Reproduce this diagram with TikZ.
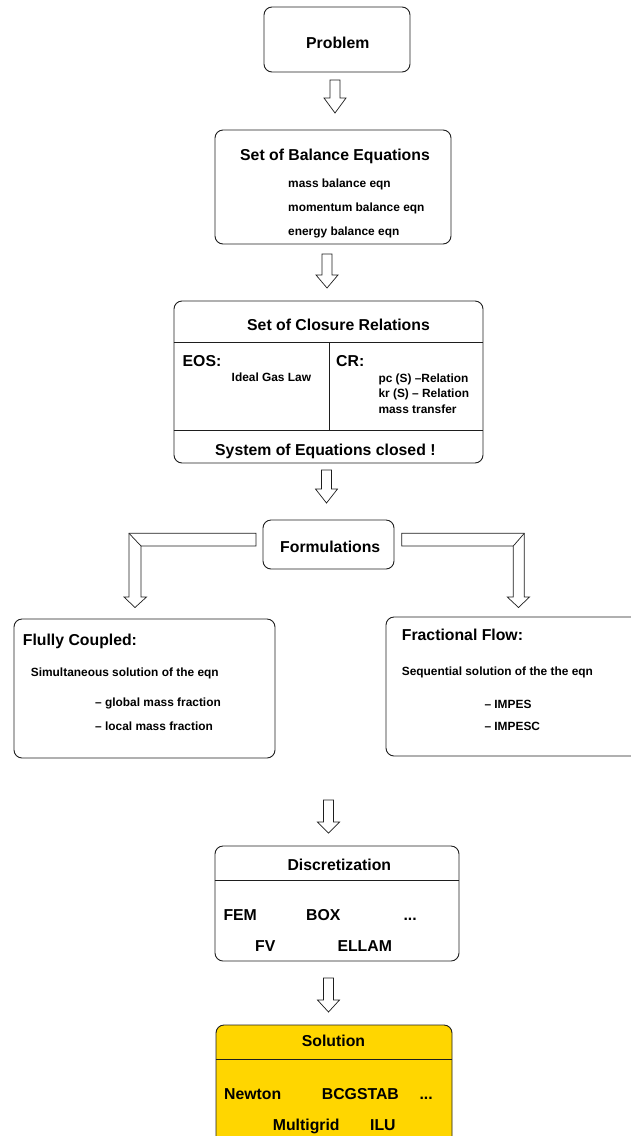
\documentclass[tikz,border=0pt]{standalone}
\usepackage{fontspec}
\setmainfont{Liberation Sans}
\definecolor{gold}{RGB}{255,214,0}
\definecolor{edge}{RGB}{30,30,30}
\begin{document}
\begin{tikzpicture}[x=1pt,y=-1pt,
  box/.style={draw=edge,line width=0.9pt,rounded corners=8pt,inner sep=0pt},
  title/.style={font=\fontsize{15.8}{18}\selectfont\bfseries,inner sep=0pt,anchor=base west},
  small/.style={font=\fontsize{11.9}{14}\selectfont\bfseries,inner sep=0pt,anchor=base west},
  blockarrow/.style={draw=edge,line width=0.7pt,fill=white,line join=miter},
  divider/.style={draw=edge,line width=0.9pt}]
\useasboundingbox (0,0) rectangle (631,1136);
\clip (0,0) rectangle (631,1136);

% boxes
\node[box,minimum width=146pt,minimum height=65pt] (problem) at (337,39.5) {};
\node[box,minimum width=236pt,minimum height=114pt] (balance) at (333,187) {};
\node[box,minimum width=309pt,minimum height=162pt] (closure) at (328.5,382) {};
\node[box,minimum width=131pt,minimum height=49pt] (form) at (328.5,544.5) {};
\node[box,minimum width=261pt,minimum height=139pt] (fully) at (144.5,688.5) {};
\node[box,minimum width=274pt,minimum height=139pt] (frac) at (523,686.5) {};
\node[box,minimum width=244pt,minimum height=115pt] (disc) at (337,903.5) {};
\node[box,fill=gold,minimum width=236pt,minimum height=140pt] (sol) at (334,1095) {};

% dividers
\draw[divider] (closure.west |- 0,342) -- (closure.east |- 0,342);
\draw[divider] (closure.west |- 0,430) -- (closure.east |- 0,430);
\draw[divider] (329,342) -- (329,430);
\draw[divider] (disc.west |- 0,880) -- (disc.east |- 0,880);
\draw[divider] (sol.west |- 0,1059) -- (sol.east |- 0,1059);

% texts
\node[title] (tprob) at (306,48) {Problem};
\node[title] (tbal) at (240,160) {Set of Balance Equations};
\node[small] (b1) at (288,187) {mass balance eqn};
\node[small] (b2) at (288,211) {momentum balance eqn};
\node[small] (b3) at (288,235) {energy balance eqn};

\node[title] (tclo) at (247,330) {Set of Closure Relations};
\node[title] (teos) at (182.5,366) {EOS:};
\node[small] (ideal) at (231.5,381.5) {Ideal Gas Law};
\node[title] (tcr) at (336,366) {CR:};
\node[small] (c1) at (378.3,382) {pc (S) –Relation};
\node[small] (c2) at (378.3,397.5) {kr (S) – Relation};
\node[small] (c3) at (378.3,413) {mass transfer};
\node[title] (tsys) at (215,455.5) {System of Equations closed !};

\node[title] (tform) at (280,552.5) {Formulations};

\node[title] (tfully) at (22.7,645) {Flully Coupled:};
\node[small] (f1) at (30.7,676.5) {Simultaneous solution of the eqn};
\node[small] (f2) at (95,706.5) {– global mass fraction};
\node[small] (f3) at (95,730.5) {– local mass fraction};

\node[title] (tfrac) at (401.7,640) {Fractional Flow:};
\node[small] (r1) at (401.7,675) {Sequential solution of the the eqn};
\node[small] (r2) at (484.3,708.3) {– IMPES};
\node[small] (r3) at (484.3,730.5) {– IMPESC};

\node[title] (tdisc) at (287.3,870) {Discretization};
\node[title] (d1) at (223.3,920) {FEM};
\node[title] (d2) at (306,920) {BOX};
\node[title] (d3) at (403.3,920) {...};
\node[title] (d4) at (255,951) {FV};
\node[title] (d5) at (337.3,951) {ELLAM};

\node[title] (tsol) at (301.7,1046.5) {Solution};
\node[title] (s1) at (224,1099.3) {Newton};
\node[title] (s2) at (321.7,1099.3) {BCGSTAB};
\node[title] (s3) at (419.3,1099.3) {...};
\node[title] (s4) at (272.7,1130.7) {Multigrid};
\node[title] (s5) at (370,1130.7) {ILU};

% vertical block arrows: centre x, top, head start, tip
\newcommand\vblock[4]{%
  \draw[blockarrow] (#1-5,#2) -- (#1+5,#2) -- (#1+5,#3) -- (#1+11,#3) -- (#1,#4) -- (#1-11,#3) -- (#1-5,#3) -- cycle;}
\vblock{335}{80}{98}{113}
\vblock{327}{254}{275}{288}
\vblock{326.5}{470}{489}{503}
\vblock{328.5}{800}{822}{833}
\vblock{328.5}{978}{1000}{1012}

% bent block arrows from Formulations
\draw[blockarrow] (256,533.3) -- (129,533.3) -- (129,597) -- (124,597) -- (135,607.5) -- (146.5,597) -- (141,597) -- (141,546) -- (256,546) -- cycle;
\draw[blockarrow] (129,533.3) -- (141,546);
\draw[blockarrow] (401.7,533.3) -- (524.3,533.3) -- (524.3,597) -- (529.5,597) -- (518.5,607.5) -- (507.3,597) -- (513.3,597) -- (513.3,546) -- (401.7,546) -- cycle;
\draw[blockarrow] (524.3,533.3) -- (513.3,546);
\end{tikzpicture}
\end{document}
